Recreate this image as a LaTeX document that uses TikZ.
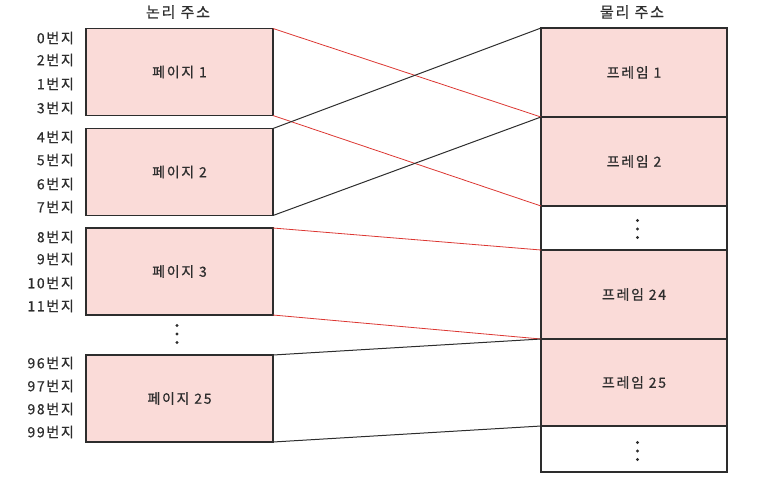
\documentclass[tikz,border=0pt]{standalone}
\usepackage{fontspec}
\newfontfamily\kr[FakeBold=0.6, LetterSpace=12]{Noto Sans CJK KR}
\usepackage{tikz}
\usetikzlibrary{positioning}
\definecolor{pagefill}{RGB}{250,219,216}
\definecolor{mapred}{RGB}{220,55,50}
\definecolor{inkgray}{RGB}{45,45,45}

\begin{document}
\begin{tikzpicture}[x=1pt, y=-1pt,
    box/.style={draw=inkgray, line width=1.2pt, rectangle, outer sep=0pt, inner sep=0pt},
    pagebox/.style={box, fill=pagefill, minimum width=187pt, minimum height=87pt},
    framebox/.style={box, fill=pagefill, minimum width=186pt, minimum height=89pt},
    gapbox/.style={box, fill=white, minimum width=186pt, minimum height=45pt},
    lbl/.style={text=inkgray, font=\kr\fontsize{14}{16}\selectfont},
    addr/.style={lbl, anchor=east, inner sep=0pt},
    redmap/.style={draw=mapred, line width=0.8pt},
    blackmap/.style={draw=inkgray, line width=1pt}]
    \useasboundingbox (0,0) rectangle (775,483);

    % 제목
    \node[lbl, font=\kr\fontsize{15}{17}\selectfont] (ltitle) at (178,12) {논리 주소};
    \node[lbl, font=\kr\fontsize{15}{17}\selectfont] (ptitle) at (632,12) {물리 주소};

    % 논리 주소 (페이지)
    \node[pagebox] (page1) at (179.5,72) {};
    \node[pagebox] (page2) at (179.5,172) {};
    \node[pagebox] (page3) at (179.5,271.5) {};
    \node[pagebox] (page25) at (179.5,398.5) {};
    \node[lbl] (page1txt) at (page1) {페이지 1};
    \node[lbl] (page2txt) at (page2) {페이지 2};
    \node[lbl] (page3txt) at (page3) {페이지 3};
    \node[lbl] (page25txt) at (page25) {페이지 25};

    % 번지
    \foreach \t/\y in {0/38, 2/60, 1/84, 3/108, 4/137, 5/160, 6/184, 7/207,
                       8/237, 9/259, 10/283, 11/306, 96/363, 97/386, 98/409, 99/432}
        \node[addr] (addr\t) at (74,\y) {\t{}번지};

    % 물리 주소 (프레임)
    \node[framebox] (frame1) at (634,72.5) {};
    \node[framebox] (frame2) at (634,161.5) {};
    \node[gapbox, minimum height=44pt] (gap1) at (634,228) {};
    \node[framebox] (frame24) at (634,294.5) {};
    \node[framebox, minimum height=87pt] (frame25) at (634,382.5) {};
    \node[gapbox, minimum height=46pt] (gap2) at (634,449) {};
    \node[lbl] (frame1txt) at (frame1) {프레임 1};
    \node[lbl] (frame2txt) at (frame2) {프레임 2};
    \node[lbl] (frame24txt) at (frame24) {프레임 24};
    \node[lbl] (frame25txt) at (frame25) {프레임 25};

    % 생략 점
    \foreach \x/\y in {177/334, 637.5/229, 637.5/451}
        \foreach \d in {-8.5, 0, 8.5}
            \fill[inkgray] (\x,\y+\d) circle (1.7pt);

    % 매핑
    \draw[redmap] (page1.north east) -- (frame2.north west);
    \draw[redmap] (page1.south east) -- (frame2.south west);
    \draw[blackmap] (page2.north east) -- (frame1.north west);
    \draw[blackmap] (page2.south east) -- (frame1.south west);
    \draw[redmap] (page3.north east) -- (frame24.north west);
    \draw[redmap] (page3.south east) -- (frame24.south west);
    \draw[blackmap] (page25.north east) -- (frame25.north west);
    \draw[blackmap] (page25.south east) -- (frame25.south west);
\end{tikzpicture}
\end{document}
